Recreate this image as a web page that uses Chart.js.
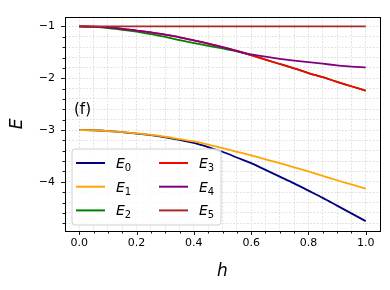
<!DOCTYPE html>
<html>
<head>
<meta charset="utf-8">
<script src="https://cdn.jsdelivr.net/npm/chart.js@4/dist/chart.umd.min.js"></script>
<style>
  html, body { margin: 0; padding: 0; background: #fff; }
  #c { display: block; }
</style>
</head>
<body>
<canvas id="c" width="390" height="290" style="width:390px;height:290px"></canvas>
<script>
const h = [0, 0.05, 0.1, 0.15, 0.2, 0.25, 0.3, 0.35, 0.4, 0.45, 0.5, 0.55, 0.6, 0.65, 0.7, 0.75, 0.8, 0.85, 0.9, 0.95, 1.0];
const E0 = [-3.00, -3.005, -3.02, -3.04, -3.07, -3.10, -3.14, -3.19, -3.25, -3.33, -3.42, -3.53, -3.64, -3.77, -3.90, -4.03, -4.17, -4.31, -4.46, -4.61, -4.76];
const E1 = [-3.00, -3.005, -3.02, -3.04, -3.065, -3.095, -3.13, -3.175, -3.22, -3.28, -3.35, -3.42, -3.49, -3.565, -3.64, -3.72, -3.80, -3.885, -3.97, -4.05, -4.13];
const E2 = [-1.00, -1.01, -1.03, -1.065, -1.10, -1.15, -1.20, -1.265, -1.32, -1.375, -1.425, -1.48, -1.555, -1.64, -1.725, -1.81, -1.90, -1.98, -2.07, -2.155, -2.24];
const E3 = [-1.00, -1.005, -1.02, -1.045, -1.08, -1.115, -1.16, -1.21, -1.27, -1.33, -1.40, -1.47, -1.555, -1.64, -1.725, -1.81, -1.90, -1.98, -2.07, -2.155, -2.24];
const E4 = [-1.00, -1.005, -1.02, -1.045, -1.08, -1.115, -1.16, -1.21, -1.27, -1.33, -1.40, -1.47, -1.54, -1.585, -1.625, -1.66, -1.69, -1.72, -1.75, -1.775, -1.79];
const E5 = [-1, -1, -1, -1, -1, -1, -1, -1, -1, -1, -1, -1, -1, -1, -1, -1, -1, -1, -1, -1, -1];
const seriesNames = ['0', '1', '2', '3', '4', '5'];
const seriesValues = [E0, E1, E2, E3, E4, E5];
const seriesColors = ['#000080', '#FFA500', '#008000', '#FF0000', '#800080', '#A52A2A'];
const xTicks = [0, 0.05, 0.1, 0.15, 0.2, 0.25, 0.3, 0.35, 0.4, 0.45, 0.5, 0.55, 0.6, 0.65, 0.7, 0.75, 0.8, 0.85, 0.9, 0.95, 1.0];
const yTicks = [-4.8, -4.6, -4.4, -4.2, -4, -3.8, -3.6, -3.4, -3.2, -3, -2.8, -2.6, -2.4, -2.2, -2, -1.8, -1.6, -1.4, -1.2, -1];
const panelLabel = '(f)';

const FONT = "'DejaVu Sans', sans-serif";
const isMajorX = v => Math.abs(v * 5 - Math.round(v * 5)) < 1e-6;
const isMajorY = v => Math.abs(v - Math.round(v)) < 1e-6;

const datasets = seriesValues.map((vals, i) => ({
  label: 'E' + seriesNames[i],
  data: h.map((x, j) => ({ x: x, y: vals[j] })),
  borderColor: seriesColors[i],
  backgroundColor: seriesColors[i],
  borderWidth: 1.8,
  pointRadius: 0,
  fill: false,
  cubicInterpolationMode: 'monotone',
  order: seriesValues.length - 1 - i
}));

const decor = {
  id: 'decor',
  afterDraw(chart) {
    const ctx = chart.ctx;
    const ca = chart.chartArea;
    const xs = chart.scales.x, ys = chart.scales.y;
    ctx.save();
    // frame
    ctx.strokeStyle = '#000';
    ctx.lineWidth = 1;
    ctx.strokeRect(Math.round(ca.left) + 0.5, Math.round(ca.top) + 0.5, Math.round(ca.right - ca.left), Math.round(ca.bottom - ca.top));
    // ticks
    ctx.lineWidth = 0.9;
    ctx.beginPath();
    xs.ticks.forEach(t => {
      const px = Math.round(xs.getPixelForValue(t.value)) + 0.5;
      const len = isMajorX(t.value) ? 3.5 : 2;
      ctx.moveTo(px, ca.bottom);
      ctx.lineTo(px, ca.bottom + len + 0.5);
    });
    ys.ticks.forEach(t => {
      const py = Math.round(ys.getPixelForValue(t.value)) + 0.5;
      const len = isMajorY(t.value) ? 3.5 : 2;
      ctx.moveTo(ca.left, py);
      ctx.lineTo(ca.left - len - 0.5, py);
    });
    ctx.stroke();
    // panel label
    ctx.fillStyle = '#000';
    ctx.font = '15px ' + FONT;
    ctx.textAlign = 'left';
    ctx.textBaseline = 'middle';
    ctx.fillText(panelLabel, ca.left + 9, ca.top + 94);
    // legend
    const bx = ca.left + 7, by = ca.bottom - 82, bw = 149, bh = 76, r = 3;
    ctx.beginPath();
    ctx.moveTo(bx + r, by);
    ctx.lineTo(bx + bw - r, by);
    ctx.arcTo(bx + bw, by, bx + bw, by + r, r);
    ctx.lineTo(bx + bw, by + bh - r);
    ctx.arcTo(bx + bw, by + bh, bx + bw - r, by + bh, r);
    ctx.lineTo(bx + r, by + bh);
    ctx.arcTo(bx, by + bh, bx, by + bh - r, r);
    ctx.lineTo(bx, by + r);
    ctx.arcTo(bx, by, bx + r, by, r);
    ctx.closePath();
    ctx.fillStyle = 'rgba(255,255,255,0.8)';
    ctx.fill();
    ctx.strokeStyle = '#d0d0d0';
    ctx.lineWidth = 1;
    ctx.stroke();
    chart.data.datasets.forEach((ds, i) => {
      const col = Math.floor(i / 3), row = i % 3;
      const lx = bx + 4 + col * 83;
      const ly = by + 14 + row * 23.7;
      ctx.strokeStyle = ds.borderColor;
      ctx.lineWidth = 2;
      ctx.beginPath();
      ctx.moveTo(lx, ly);
      ctx.lineTo(lx + 29, ly);
      ctx.stroke();
      ctx.fillStyle = '#000';
      ctx.textBaseline = 'alphabetic';
      ctx.font = 'italic 14px ' + FONT;
      const tx = lx + 40;
      ctx.fillText('E', tx, ly + 5);
      const w = ctx.measureText('E').width;
      ctx.font = '10px ' + FONT;
      ctx.fillText(seriesNames[i], tx + w, ly + 8);
    });
    ctx.restore();
  }
};

new Chart(document.getElementById('c'), {
  type: 'line',
  data: { datasets: datasets },
  options: {
    responsive: false,
    animation: false,
    devicePixelRatio: 1,
    layout: { padding: { top: 10, right: 10, left: 0, bottom: 0 } },
    plugins: { legend: { display: false }, tooltip: { enabled: false } },
    scales: {
      x: {
        type: 'linear',
        min: -0.05,
        max: 1.05,
        afterBuildTicks: s => { s.ticks = xTicks.map(v => ({ value: v })); },
        afterFit: s => { s.height = 59; },
        ticks: {
          autoSkip: false,
          maxRotation: 0,
          padding: 6,
          color: '#000',
          font: { family: FONT, size: 11 },
          callback: v => isMajorX(v) ? v.toFixed(1) : ''
        },
        grid: { color: '#e2e2e2', lineWidth: 1, drawTicks: false },
        border: { display: false, dash: [2, 1.5] },
        title: { display: true, text: 'h', color: '#000', font: { family: FONT, size: 17, style: 'italic' }, padding: { top: 0, bottom: 8 } }
      },
      y: {
        type: 'linear',
        min: -4.95,
        max: -0.81,
        afterBuildTicks: s => { s.ticks = yTicks.map(v => ({ value: v })); },
        afterFit: s => { s.width = 65; },
        ticks: {
          autoSkip: false,
          padding: 10,
          color: '#000',
          font: { family: FONT, size: 11 },
          callback: v => isMajorY(v) ? '\u2212' + Math.abs(Math.round(v)) : ''
        },
        grid: { color: '#e2e2e2', lineWidth: 1, drawTicks: false },
        border: { display: false, dash: [2, 1.5] },
        title: { display: true, text: 'E', color: '#000', font: { family: FONT, size: 17, style: 'italic' }, padding: { top: 7, bottom: 0 } }
      }
    }
  },
  plugins: [decor]
});
</script>
</body>
</html>
